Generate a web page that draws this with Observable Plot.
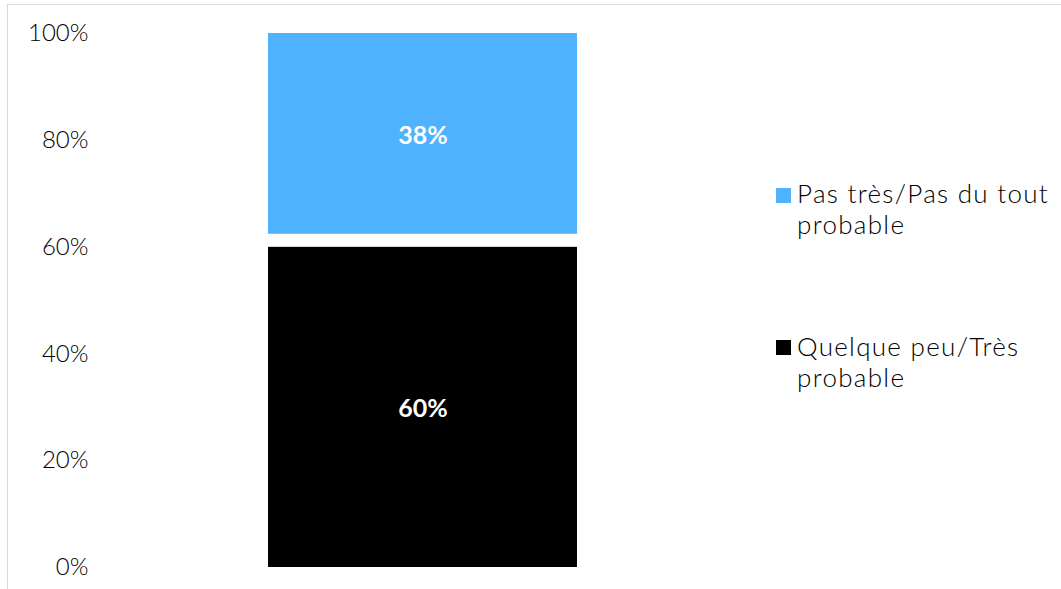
<!DOCTYPE html>
<html>
<head>
<meta charset="utf-8">
<script src="https://cdn.jsdelivr.net/npm/d3@7"></script>
<script src="https://cdn.jsdelivr.net/npm/@observablehq/plot@0.6"></script>
<style>
  html, body { margin: 0; padding: 0; width: 1061px; height: 589px; overflow: hidden; background: #fff; }
  body { font-family: "Lato", "Liberation Sans", sans-serif; position: relative; }
  #frame { position: absolute; left: 7px; top: 4px; width: 1200px; height: 700px; border: 1.5px solid #d9d9d9; box-sizing: border-box; }
  #chart { position: absolute; left: 0; top: 0; }
  .leg { position: absolute; font-size: 26px; line-height: 31px; color: #000; letter-spacing: 1.3px; font-weight: 300; white-space: nowrap; }
  .sw { position: absolute; width: 15px; height: 15px; }
</style>
</head>
<body>
<div id="frame"></div>
<div id="chart"></div>
<div id="legend"></div>
<script>
const question = "Q";
const series = ["Quelque peu/Très probable", "Ne sait pas", "Pas très/Pas du tout probable"];
const values = [60, 2.4, 37.6];
const colors = ["#000000", "#ffffff", "#4FB2FF"];
const yTicks = [0, 20, 40, 60, 80, 100];
const legendSeries = ["Pas très/Pas du tout probable", "Quelque peu/Très probable"];
const legendLines = [["Pas très/Pas du tout", "probable"], ["Quelque peu/Très", "probable"]];

const rows = series.map((s, i) => ({q: question, series: s, value: values[i]}));

const chart = Plot.plot({
  width: 1061,
  height: 589,
  marginTop: 33,
  marginBottom: 22,
  marginLeft: 268,
  marginRight: 484,
  style: {fontFamily: "Lato, 'Liberation Sans', sans-serif", background: "transparent", color: "#000"},
  x: {type: "band", domain: [question], padding: 0, axis: null},
  y: {domain: [0, 100], axis: null},
  color: {domain: series, range: colors},
  marks: [
    Plot.axisY({ticks: yTicks, tickSize: 0, tickPadding: 180, tickFormat: d => d + "%", label: null, fontSize: 24, fontWeight: 300, fill: "#000"}),
    Plot.barY(rows, {x: "q", y: "value", fill: "series"}),
    Plot.text(rows, Plot.stackY({
      x: "q", y: "value",
      text: d => d.series === "Ne sait pas" ? "" : Math.round(d.value) + "%",
      fill: "white", fontWeight: "bold", fontSize: 25, dy: 2
    }))
  ]
});
document.getElementById("chart").appendChild(chart);

const legend = document.getElementById("legend");
const legPos = [{sx: 776, sy: 188, tx: 797, ty: 178}, {sx: 776, sy: 340, tx: 797, ty: 331}];
legendSeries.forEach((s, i) => {
  const sw = document.createElement("div");
  sw.className = "sw";
  sw.style.left = legPos[i].sx + "px";
  sw.style.top = legPos[i].sy + "px";
  sw.style.background = colors[series.indexOf(s)];
  legend.appendChild(sw);
  const t = document.createElement("div");
  t.className = "leg";
  t.style.left = legPos[i].tx + "px";
  t.style.top = legPos[i].ty + "px";
  t.innerHTML = legendLines[i].join("<br>");
  legend.appendChild(t);
});
</script>
</body>
</html>
